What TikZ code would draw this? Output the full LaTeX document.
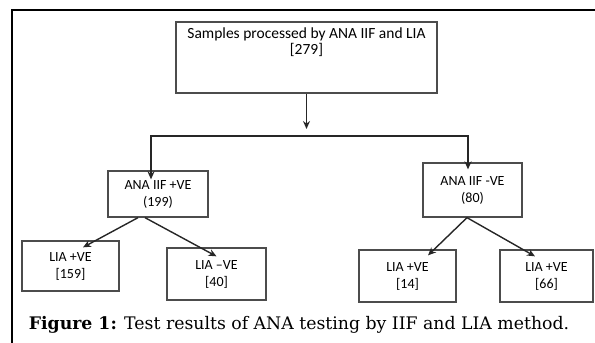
\documentclass[tikz,border=0pt]{standalone}
\usepackage{fontspec}
\setmainfont{Carlito}
\newfontfamily\captionfont{DejaVu Serif}
\usetikzlibrary{arrows.meta}

\begin{document}
\begin{tikzpicture}[x=1pt,y=-1pt,
        boxNode/.style = {draw=gray!60!black,line width=1.3pt,align=center,font=\fontsize{14}{17}\selectfont,inner sep=0pt},
        topBox/.style = {boxNode,minimum width=261pt,minimum height=71pt},
        midBox/.style = {boxNode,minimum width=100pt,minimum height=46pt},
        leafBox/.style = {boxNode,minimum width=97pt,minimum height=50pt},
        flowArrow/.style = {-{Stealth[length=8pt,width=7pt]},line width=1.4pt,draw=black!85},
        captionNode/.style = {font=\captionfont\fontsize{17.3}{19}\selectfont}
        ]
    \useasboundingbox (0,0) rectangle (595,343);
    \draw[line width=1.8pt] (12,343) |- (595,10); % outer frame
    \node[topBox,label={[anchor=north,align=center,yshift=-3pt,font=\fontsize{15.5}{15.5}\selectfont]north:Samples processed by ANA IIF and LIA\\{[279]}}] (samples) at (306.5,57.5) {};
    \node[midBox] (anaPos) at (158,194) {ANA IIF +VE\\(199)};
    \node[midBox,minimum width=99pt,minimum height=54pt] (anaNeg) at (472.5,190) {ANA IIF -VE\\(80)};
    \node[leafBox] (liaPosA) at (70.5,266) {LIA +VE\\{[159]}};
    \node[leafBox,minimum width=99pt,minimum height=52pt] (liaNegA) at (216.5,274) {LIA --VE\\{[40]}};
    \node[leafBox,minimum height=52pt] (liaPosB) at (407.5,276) {LIA +VE\\{[14]}};
    \node[leafBox,minimum width=93pt,minimum height=52pt] (liaPosC) at (546.5,276) {LIA +VE\\{[66]}};
    \coordinate (split) at (306.5,136);
    \draw[flowArrow] (samples) -- ([yshift=7pt]split);
    \draw[flowArrow] (split) -| ([xshift=-7pt,yshift=-9pt]anaPos.north);
    \draw[flowArrow] (split) -| ([xshift=-4.5pt,yshift=-7pt]anaNeg.north);
    \draw[flowArrow] ([xshift=-20pt]anaPos.south) -- ([xshift=12.5pt,yshift=-7pt]liaPosA.north);
    \draw[flowArrow] ([xshift=-13pt]anaPos.south) -- ([yshift=-9pt]liaNegA.north);
    \draw[flowArrow] ([xshift=-5.5pt]anaNeg.south) -- ([xshift=20.5pt,yshift=-6pt]liaPosB.north);
    \draw[flowArrow] ([xshift=-5.5pt]anaNeg.south) -- ([xshift=-11.5pt,yshift=-7pt]liaPosC.north);
    \node[captionNode] (caption) at (299,325) {\textbf{Figure 1:} Test results of ANA testing by IIF and LIA method.};
\end{tikzpicture}
\end{document}
